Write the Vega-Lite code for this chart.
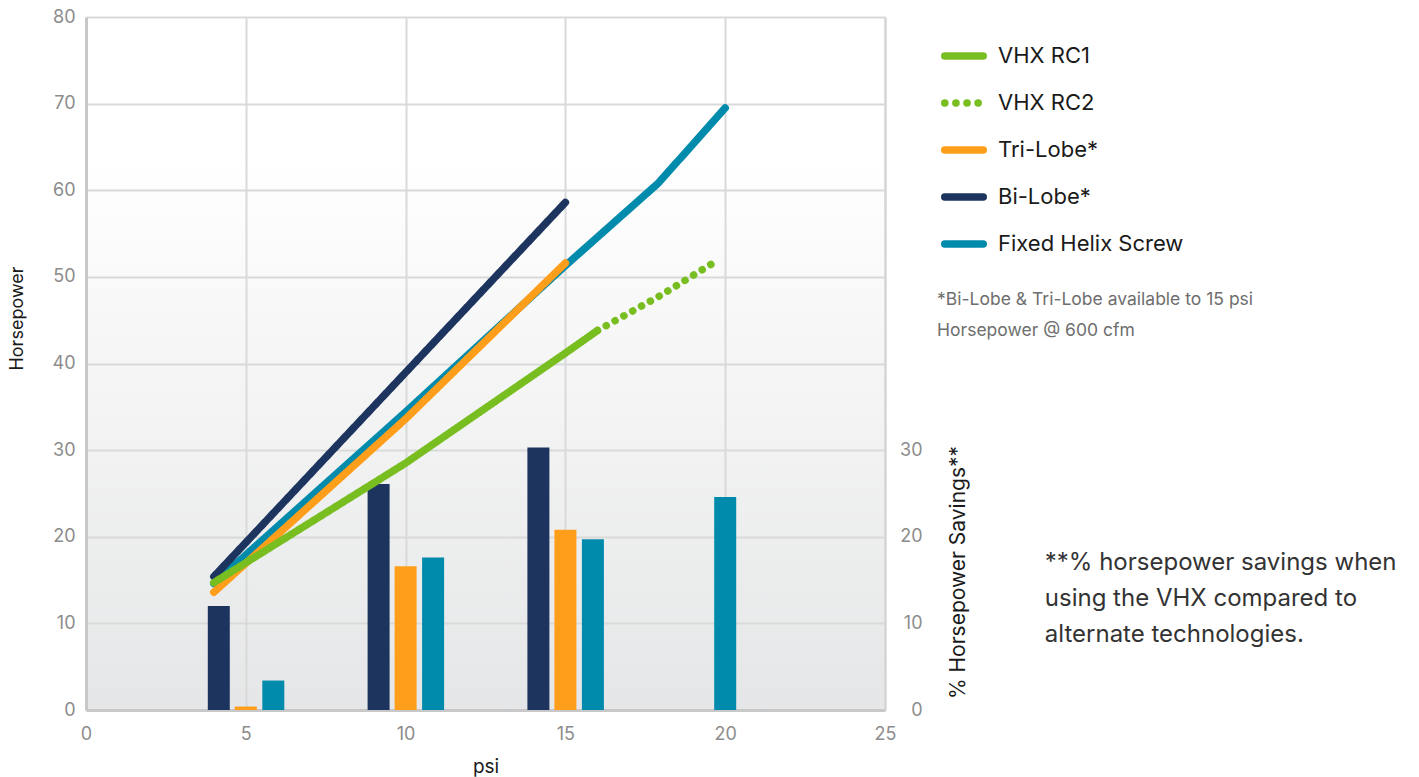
{
  "$schema": "https://vega.github.io/schema/vega-lite/v6.json",
  "width": 799,
  "height": 693,
  "autosize": "none",
  "padding": {"left": 86, "top": 17, "right": 534, "bottom": 67},
  "background": "white",
  "config": {
    "font": "Inter",
    "view": {
      "stroke": null,
      "fill": {"gradient": "linear", "x1": 0, "y1": 0, "x2": 0, "y2": 1,
        "stops": [{"offset": 0, "color": "#ffffff"}, {"offset": 0.2, "color": "#ffffff"}, {"offset": 1, "color": "#e5e6e7"}]}
    },
    "axis": {
      "gridColor": "#d9d9d9", "gridWidth": 2, "ticks": false, "labelFlush": false,
      "domainColor": "#c8c8c8", "domainWidth": 3,
      "labelColor": "#8c8c8c", "labelFontSize": 18, "labelFont": "Inter",
      "titleColor": "#1a1a1a", "titleFontSize": 18, "titleFontWeight": "normal", "titleFont": "Inter"
    },
    "legend": {
      "orient": "none", "legendX": 855, "legendY": 16, "padding": 0,
      "symbolType": "stroke", "symbolSize": 1480, "symbolStrokeWidth": 7.5,
      "labelFontSize": 22, "labelColor": "#1a1a1a", "labelFont": "Inter", "labelOffset": 11,
      "rowPadding": 9, "title": null, "labelLimit": 400
    }
  },
  "datasets": {
    "lines": [
      {"series": "Fixed Helix Screw", "psi": 4, "hp": 14.6},
      {"series": "Fixed Helix Screw", "psi": 10, "hp": 34.4},
      {"series": "Fixed Helix Screw", "psi": 15, "hp": 51.3},
      {"series": "Fixed Helix Screw", "psi": 17.9, "hp": 60.8},
      {"series": "Fixed Helix Screw", "psi": 20, "hp": 69.5},
      {"series": "Bi-Lobe*", "psi": 4, "hp": 15.4},
      {"series": "Bi-Lobe*", "psi": 15, "hp": 58.6},
      {"series": "Tri-Lobe*", "psi": 4, "hp": 13.6},
      {"series": "Tri-Lobe*", "psi": 10, "hp": 33.6},
      {"series": "Tri-Lobe*", "psi": 15, "hp": 51.6},
      {"series": "VHX RC1", "psi": 4, "hp": 14.7},
      {"series": "VHX RC1", "psi": 10, "hp": 28.5},
      {"series": "VHX RC1", "psi": 15, "hp": 41.2},
      {"series": "VHX RC1", "psi": 16, "hp": 43.8},
      {"series": "VHX RC2", "psi": 16, "hp": 43.8},
      {"series": "VHX RC2", "psi": 18, "hp": 47.9},
      {"series": "VHX RC2", "psi": 19.8, "hp": 52.0}
    ],
    "bars": [
      {"series": "Bi-Lobe*", "psi": 5, "savings": 12.0},
      {"series": "Bi-Lobe*", "psi": 10, "savings": 26.1},
      {"series": "Bi-Lobe*", "psi": 15, "savings": 30.3},
      {"series": "Tri-Lobe*", "psi": 5, "savings": 0.4},
      {"series": "Tri-Lobe*", "psi": 10, "savings": 16.6},
      {"series": "Tri-Lobe*", "psi": 15, "savings": 20.8},
      {"series": "Fixed Helix Screw", "psi": 5, "savings": 3.4},
      {"series": "Fixed Helix Screw", "psi": 10, "savings": 17.6},
      {"series": "Fixed Helix Screw", "psi": 15, "savings": 19.7},
      {"series": "Fixed Helix Screw", "psi": 20, "savings": 24.6}
    ]
  },
  "encoding": {
    "x": {
      "field": "psi", "type": "quantitative",
      "scale": {"domain": [0, 25], "nice": false, "zero": true, "padding": 0},
      "axis": {"values": [0, 5, 10, 15, 20, 25], "title": "psi", "labelPadding": 15, "titlePadding": 14, "titleFontSize": 19, "domain": true}
    }
  },
  "layer": [
    {
      "data": {"name": "bars"},
      "encoding": {
        "y": {
          "field": "savings", "type": "quantitative",
          "scale": {"domain": [0, 80], "nice": false},
          "axis": {"orient": "right", "values": [0, 10, 20, 30], "grid": false, "title": "% Horsepower Savings**",
            "labelAlign": "right", "labelPadding": 37, "labelBaseline": "middle", "titleFontSize": 21,
            "titleAngle": 270, "titleX": 83, "titleY": 555, "titleBaseline": "bottom", "titleAlign": "center",
            "domainColor": "#d4d4d4", "domainWidth": 2}
        },
        "color": {
          "field": "series", "type": "nominal",
          "scale": {"domain": ["VHX RC1", "VHX RC2", "Tri-Lobe*", "Bi-Lobe*", "Fixed Helix Screw"],
            "range": ["#78be21", "#78be21", "#ff9e1b", "#1d355e", "#008aab"]}
        }
      },
      "layer": [
        {"transform": [{"filter": "datum.series === 'Bi-Lobe*'"}], "mark": {"type": "bar", "width": 22, "xOffset": -27}},
        {"transform": [{"filter": "datum.series === 'Tri-Lobe*'"}], "mark": {"type": "bar", "width": 22, "xOffset": 0}},
        {"transform": [{"filter": "datum.series === 'Fixed Helix Screw' && datum.psi < 20"}], "mark": {"type": "bar", "width": 22, "xOffset": 27.5}},
        {"transform": [{"filter": "datum.series === 'Fixed Helix Screw' && datum.psi >= 20"}], "mark": {"type": "bar", "width": 22, "xOffset": 0}}
      ]
    },
    {
      "data": {"name": "lines"},
      "encoding": {
        "y": {
          "field": "hp", "type": "quantitative",
          "scale": {"domain": [0, 80], "nice": false},
          "axis": {"orient": "left", "values": [0, 10, 20, 30, 40, 50, 60, 70, 80], "title": "Horsepower", "grid": true,
            "labelPadding": 11, "titleX": -60, "titleY": 301, "titleAngle": 270, "titleBaseline": "bottom", "titleAlign": "center"}
        }
      },
      "layer": [
        {
          "transform": [{"filter": "datum.series !== 'VHX RC2'"}],
          "mark": {"type": "line", "strokeWidth": 7.5, "strokeCap": "round", "strokeJoin": "round"},
          "encoding": {
            "color": {"field": "series", "type": "nominal",
              "scale": {"domain": ["VHX RC1", "VHX RC2", "Tri-Lobe*", "Bi-Lobe*", "Fixed Helix Screw"],
                "range": ["#78be21", "#78be21", "#ff9e1b", "#1d355e", "#008aab"]},
              "sort": ["Fixed Helix Screw", "Bi-Lobe*", "Tri-Lobe*", "VHX RC1", "VHX RC2"],
              "legend": {"symbolStrokeWidth": 7.5, "encode": {"symbols": {"update": {"strokeCap": {"value": "round"}}}}}},
            "strokeDash": {"field": "series", "type": "nominal",
              "scale": {"domain": ["VHX RC1", "VHX RC2", "Tri-Lobe*", "Bi-Lobe*", "Fixed Helix Screw"],
                "range": [[1, 0], [0.1, 11], [1, 0], [1, 0], [1, 0]]}}
          }
        },
        {
          "transform": [{"filter": "datum.series === 'VHX RC2'"}],
          "mark": {"type": "line", "strokeWidth": 7.5, "strokeCap": "round", "strokeDash": [0.1, 10], "color": "#78be21"},
          "encoding": {}
        },
        {
          "transform": [{"filter": "datum.series === 'Bi-Lobe*' && datum.psi === 4"}],
          "mark": {"type": "text", "align": "left", "baseline": "middle", "fontSize": 17.5, "color": "#6e6e6e", "lineHeight": 31,
            "text": ["*Bi-Lobe & Tri-Lobe available to 15 psi", "\u2002Horsepower @ 600 cfm"]},
          "encoding": {"x": {"datum": 26.63, "type": "quantitative"}, "y": {"datum": 47.33, "type": "quantitative"}}
        },
        {
          "transform": [{"filter": "datum.series === 'Bi-Lobe*' && datum.psi === 4"}],
          "mark": {"type": "text", "align": "left", "baseline": "middle", "fontSize": 24, "color": "#333333", "lineHeight": 36,
            "text": ["**% horsepower savings when", "using the VHX compared to", "alternate technologies."]},
          "encoding": {"x": {"datum": 30.0, "type": "quantitative"}, "y": {"datum": 16.97, "type": "quantitative"}}
        }
      ]
    }
  ],
  "resolve": {"scale": {"y": "independent"}}
}
